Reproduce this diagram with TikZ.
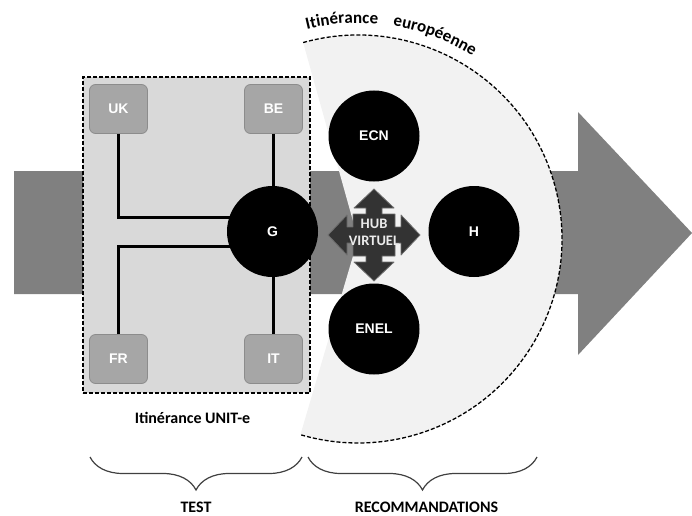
\documentclass[tikz,border=0pt]{standalone}
\usepackage{fontspec}
\setmainfont{Carlito}
\newfontfamily\arialfont{Liberation Sans}
\usetikzlibrary{decorations.pathreplacing,decorations.text}
\definecolor{flechegris}{HTML}{808080}
\definecolor{zonegris}{HTML}{F2F2F2}
\definecolor{cadregris}{HTML}{D9D9D9}
\definecolor{paysgris}{HTML}{A6A6A6}
\definecolor{paysbord}{HTML}{8C8C8C}
\definecolor{hubgris}{HTML}{333333}
\definecolor{hubbord}{HTML}{6E6E6E}
\definecolor{accgris}{HTML}{404040}

\begin{document}
\begin{tikzpicture}[x=1pt,y=1pt,
  pays/.style={draw=paysbord,fill=paysgris,line width=0.8pt,rounded corners=6pt,minimum width=58pt,minimum height=49pt,inner sep=0pt,text=white,font=\arialfont\bfseries\fontsize{14}{14}\selectfont},
  acteur/.style={circle,fill=black,minimum size=91pt,inner sep=0pt,text=white,font=\arialfont\bfseries\fontsize{14}{14}\selectfont},
  lien/.style={line width=3pt},
  pointille/.style={dash pattern=on 4pt off 2pt,line width=1.3pt},
  accolade/.style={decorate,decoration={brace,amplitude=33pt},line width=1.2pt,accgris},
  titre/.style={anchor=base,font=\bfseries\fontsize{16}{16}\selectfont}]
\useasboundingbox (0,0) rectangle (692,515);
\fill[flechegris] (14,221) -- (578,221) -- (578,160) -- (692,282) -- (578,403) -- (578,344) -- (14,344) -- cycle;
\coordinate (centre) at (358,276);
\fill[zonegris] (centre) -- ([shift={(105.6:204)}]centre) arc (105.6:-106.4:204) -- cycle;
\draw[pointille] ([shift={(105.6:204)}]centre) arc (105.6:-106.4:204);
\path[decorate,decoration={text along path,text={|\bfseries\fontsize{17}{17}\selectfont|Itinérance}}]
  ([shift={(103.7:216)}]centre) arc (103.7:40:216);
\path[decorate,decoration={text along path,text={|\bfseries\fontsize{17}{17}\selectfont|européenne}}]
  ([shift={(80.7:216)}]centre) arc (80.7:10:216);
\node[draw,pointille,fill=cadregris,minimum width=227pt,minimum height=316pt,inner sep=0pt] (unite) at (196.5,280) {};
\node[titre] (unitelabel) at (192.5,92) {Itinérance UNIT-e};
\node[pays] (UK) at (118.5,406) {UK};
\node[pays] (BE) at (273.5,406) {BE};
\node[pays] (FR) at (118.5,156) {FR};
\node[pays] (IT) at (273.5,156) {IT};
\coordinate (g) at (272.5,283.5);
\draw[lien] (UK) |- ([yshift=14.5pt]g);
\draw[lien] (FR) |- ([yshift=-14.5pt]g);
\draw[lien] (BE) -- (IT);
\node[acteur] (G) at (g) {G};
\node[acteur] (ECN) at (374,379) {ECN};
\node[acteur] (H) at (474,283.5) {H};
\node[acteur] (ENEL) at (374,186) {ENEL};
\coordinate (hub) at (374,280);
\filldraw[fill=hubgris,draw=hubbord,line width=0.8pt,line join=round,shift={(hub)}]
  (-21,8) -- (-27,8) -- (-27,20) -- (-46,0) -- (-27,-20) -- (-27,-8) -- (-21,-8) -- (-21,-21)
  -- (-8,-21) -- (-8,-27) -- (-20,-27) -- (0,-46) -- (20,-27) -- (8,-27) -- (8,-21) -- (21,-21)
  -- (21,-8) -- (27,-8) -- (27,-20) -- (46,0) -- (27,20) -- (27,8) -- (21,8) -- (21,21)
  -- (8,21) -- (8,27) -- (20,27) -- (0,46) -- (-20,27) -- (-8,27) -- (-8,21) -- (-21,21) -- cycle;
\node[align=center,text=white!92!black,inner sep=0pt,font=\bfseries\fontsize{14.5}{16.5}\selectfont] (hubtxt) at (374,282.5) {HUB\\VIRTUEL};
\coordinate (testg) at (90,58);
\coordinate (testd) at (302,58);
\coordinate (recog) at (308,58);
\coordinate (recod) at (537,58);
\draw[accolade] (testd) -- (testg);
\draw[accolade] (recod) -- (recog);
\node[titre] (test) at (196,3) {TEST};
\node[titre] (reco) at (426.5,3) {RECOMMANDATIONS};
\end{tikzpicture}
\end{document}
